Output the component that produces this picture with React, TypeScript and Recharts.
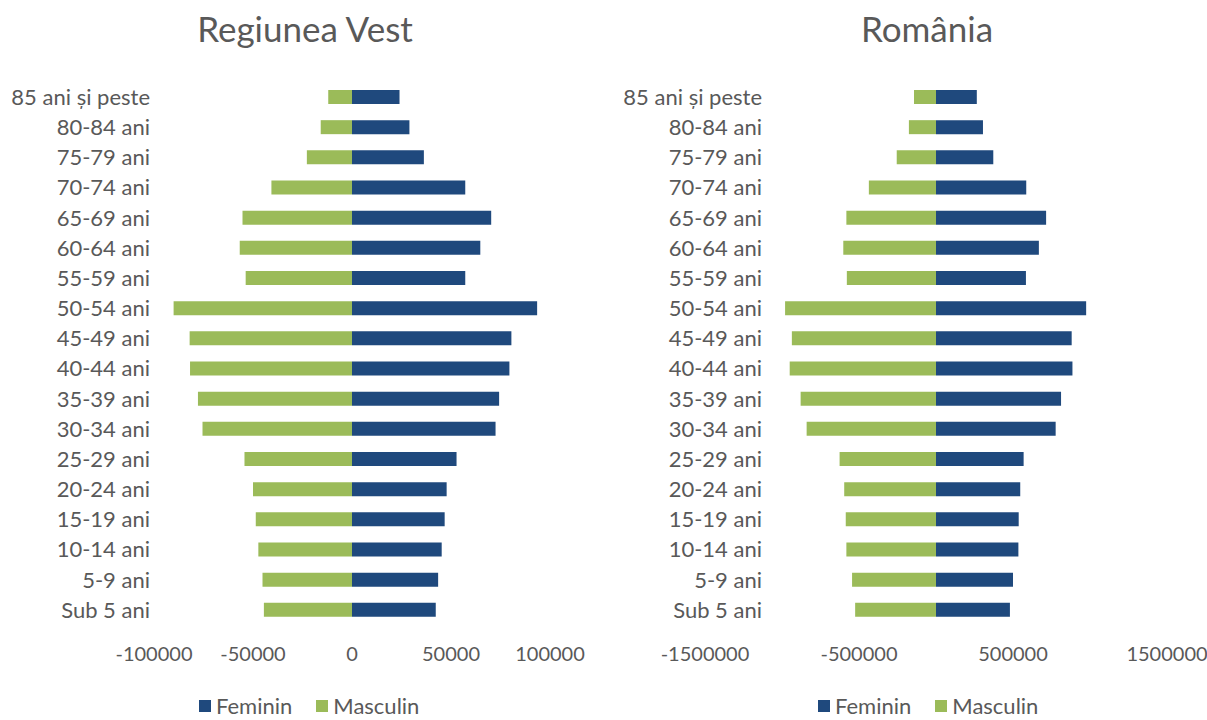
import { BarChart, Bar, XAxis, YAxis, Legend } from 'recharts';

const grupe = [
  '85 ani și peste', '80-84 ani', '75-79 ani', '70-74 ani', '65-69 ani', '60-64 ani',
  '55-59 ani', '50-54 ani', '45-49 ani', '40-44 ani', '35-39 ani', '30-34 ani',
  '25-29 ani', '20-24 ani', '15-19 ani', '10-14 ani', '5-9 ani', 'Sub 5 ani',
];

// Regiunea Vest
const vestFeminin = [24000, 29000, 36300, 57200, 70300, 64800, 57200, 93500, 80500, 79500, 74300, 72500, 52800, 47800, 46800, 45300, 43500, 42300];
const vestMasculin = [12000, 15800, 22800, 40700, 55300, 56700, 53700, 90100, 82000, 81800, 77800, 75500, 54300, 50000, 48600, 47300, 45200, 44500];
const vestTicks = [-100000, -50000, 0, 50000, 100000];

// România
const roFeminin = [265000, 305000, 372000, 586000, 715000, 668000, 584000, 975000, 881000, 886000, 812000, 777000, 569000, 547000, 537000, 535000, 500000, 480000];
const roMasculin = [143000, 176000, 255000, 436000, 582000, 602000, 579000, 980000, 936000, 950000, 879000, 840000, 626000, 596000, 586000, 582000, 545000, 525000];
const roTicks = [-1500000, -500000, 500000, 1500000];

const BLUE = '#1F497D';
const GREEN = '#9BBB59';
const TEXT = '#595959';
const FONT = 'Lato, sans-serif';

function LegendBox({ payload }: any) {
  return (
    <div style={{ display: 'flex', alignItems: 'center', fontFamily: FONT, fontSize: 22, lineHeight: '22px', color: TEXT }}>
      {(payload || []).map((p: any, i: number) => (
        <span key={i} style={{ display: 'flex', alignItems: 'center', marginRight: i === 0 ? 24 : 0 }}>
          <span style={{ width: 12, height: 12, background: p.color, marginRight: 5, display: 'inline-block' }} />
          {p.value}
        </span>
      ))}
    </div>
  );
}

interface PyramidProps {
  title: string;
  feminin: number[];
  masculin: number[];
  ticks: number[];
  left: number;
  width: number;
  axisWidth: number;
  marginRight: number;
  labelDx: number;
  legendLeft: number;
  titleCenter: number;
}

function Pyramid(p: PyramidProps) {
  const data = grupe.map((g, i) => ({
    grupa: g,
    Feminin: p.feminin[i],
    Masculin: -p.masculin[i],
  }));
  const lim = p.ticks[p.ticks.length - 1];
  return (
    <>
      <div
        style={{
          position: 'absolute', top: 4, left: p.titleCenter - 200, width: 400, textAlign: 'center',
          fontFamily: FONT, fontSize: 35, color: TEXT, lineHeight: '48px',
        }}
      >
        {p.title}
      </div>
      <div style={{ position: 'absolute', top: 0, left: p.left }}>
        <BarChart
          width={p.width}
          height={720}
          data={data}
          layout="vertical"
          stackOffset="sign"
          margin={{ top: 82, right: p.marginRight, bottom: 0, left: 0 }}
        >
          <XAxis
            type="number"
            domain={[-lim, lim]}
            ticks={p.ticks}
            interval={0}
            axisLine={false}
            tickLine={false}
            tickSize={0}
            tickMargin={22}
            height={95}
            tick={{ fill: TEXT, fontSize: 20, fontFamily: FONT }}
          />
          <YAxis
            type="category"
            dataKey="grupa"
            width={p.axisWidth}
            interval={0}
            axisLine={false}
            tickLine={false}
            tickSize={0}
            tickMargin={4}
            tick={{ fill: TEXT, fontSize: 22, fontFamily: FONT, dx: p.labelDx }}
          />
          <Legend
            layout="horizontal"
            verticalAlign="middle"
            align="center"
            content={<LegendBox />}
            wrapperStyle={{ top: 695, left: p.legendLeft - p.left, width: 'auto' }}
          />
          <Bar dataKey="Feminin" stackId="s" fill={BLUE} barSize={14} isAnimationActive={false} />
          <Bar dataKey="Masculin" stackId="s" fill={GREEN} barSize={14} isAnimationActive={false} />
        </BarChart>
      </div>
    </>
  );
}

export default function App() {
  return (
    <div style={{ position: 'absolute', top: 0, left: 0, width: 1207, height: 720, background: '#fff', overflow: 'hidden' }}>
      <Pyramid
        title="Regiunea Vest"
        feminin={vestFeminin}
        masculin={vestMasculin}
        ticks={vestTicks}
        left={0}
        width={600}
        axisWidth={154}
        marginRight={50}
        labelDx={0}
        legendLeft={199}
        titleCenter={305}
      />
      <Pyramid
        title="România"
        feminin={roFeminin}
        masculin={roMasculin}
        ticks={roTicks}
        left={600}
        width={607}
        axisWidth={105}
        marginRight={40}
        labelDx={61}
        legendLeft={818}
        titleCenter={927}
      />
    </div>
  );
}
